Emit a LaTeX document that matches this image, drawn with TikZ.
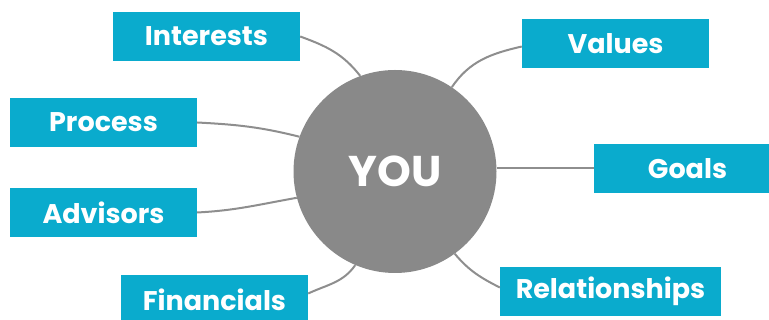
\documentclass[tikz,border=0pt]{standalone}
\usepackage{fontspec}
\setmainfont{Poppins}

\definecolor{topicblue}{HTML}{0AABCD}
\definecolor{hubgray}{HTML}{898989}
\definecolor{linkgray}{HTML}{8E8E8E}

\begin{document}
\begin{tikzpicture}[x=1pt,y=1pt,
    topic/.style={rectangle,fill=topicblue,text=white,minimum height=49pt,minimum width=187pt,
      font=\fontsize{27}{32}\selectfont\bfseries,inner sep=0pt},
    link/.style={draw=linkgray,line width=2pt}]
  \useasboundingbox (0,0) rectangle (769,320);
  % centre circle
  \node[circle,fill=hubgray,minimum size=203pt,inner sep=0pt,text=white,
    font=\fontsize{43}{50}\selectfont\bfseries] (you) at (395,148.5) {YOU};
  % topics round it
  \node[topic] (interests) at (206.5,283.5) {Interests};
  \node[topic] (process) at (103.5,197.5) {Process};
  \node[topic] (advisors) at (103.5,107.5) {Advisors};
  \node[topic] (financials) at (214.5,20.5) {Financials};
  \node[topic] (values) at (615.5,276.5) {Values};
  \node[topic] (goals) at (687.5,151) {Goals};
  \node[topic,minimum width=221pt] (relationships) at (610.5,28.5) {Relationships};
  % links
  \draw[link] (interests.east) to[out=-20,in=128] (you.110);
  \draw[link] (process.east) to[out=-3,in=166] (you.160);
  \draw[link] (advisors.east) to[out=3,in=190] (you.195);
  \draw[link] ([yshift=6pt]financials.east) to[out=25,in=235] (you.247);
  \draw[link] (you.56) to[out=56,in=193] ([yshift=-3pt]values.west);
  \draw[link] (you.2) -- (you.2 -| goals.west);
  \draw[link] (you.306) to[out=-50,in=153] ([yshift=4pt]relationships.west);
\end{tikzpicture}
\end{document}
